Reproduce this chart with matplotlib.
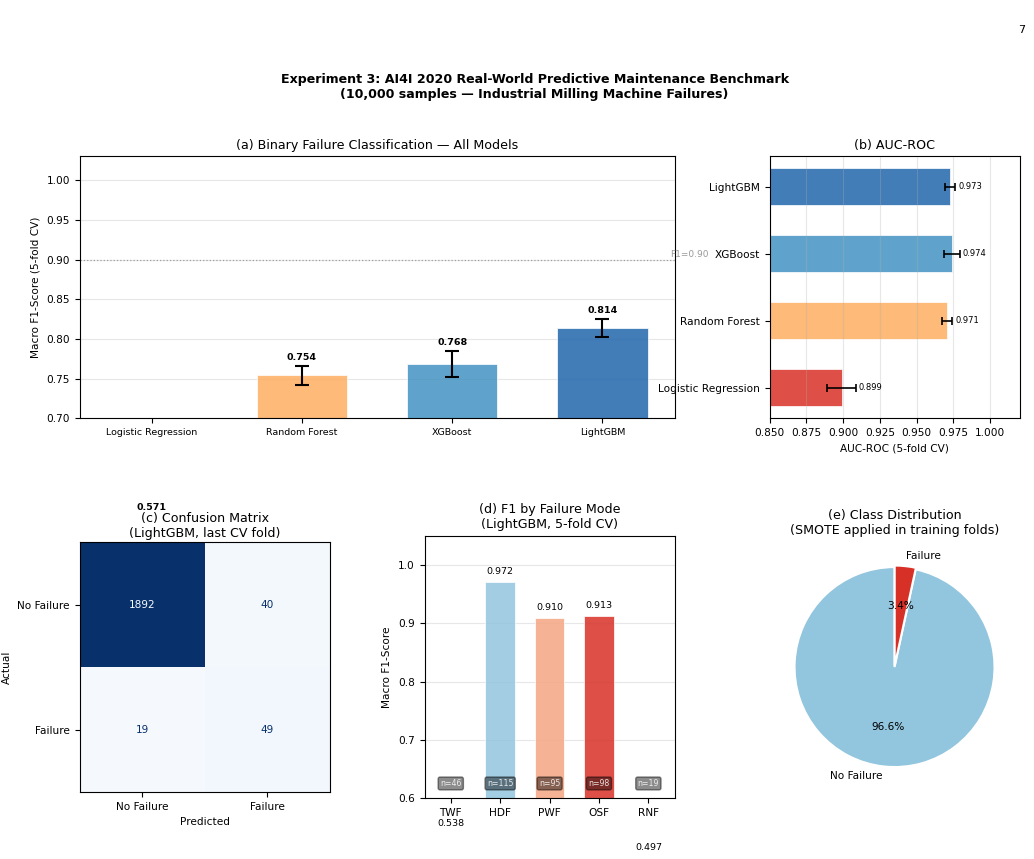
import numpy as np
import matplotlib
matplotlib.use("Agg")
import matplotlib.pyplot as plt

# model results
models = ['Logistic Regression', 'Random Forest', 'XGBoost', 'LightGBM']
f1_mean = [0.571, 0.754, 0.768, 0.814]
f1_std = [0.006, 0.012, 0.0165, 0.0115]
auc_mean = [0.899, 0.971, 0.974, 0.973]
auc_std = [0.0098, 0.0034, 0.0052, 0.0034]
model_colors = ['#d73027', '#fdae61', '#4393c3', '#2166ac']

# confusion matrix (LightGBM, last fold)
cm_labels = ['No Failure', 'Failure']
cm = np.array([[1892, 40],
               [19, 49]])

# failure modes
modes = ['TWF', 'HDF', 'PWF', 'OSF', 'RNF']
mode_f1 = [0.538, 0.972, 0.910, 0.913, 0.497]
mode_n = [46, 115, 95, 98, 19]
mode_colors = ['#2166ac', '#92c5de', '#f4a582', '#d73027', '#b2182b']

# class distribution
class_labels = ['No Failure', 'Failure']
class_share = [96.6, 3.4]
class_colors = ['#92c5de', '#d73027']

plt.rcParams['font.size'] = 7.6

fig = plt.figure(figsize=(10.34, 8.59), dpi=100)
gs = fig.add_gridspec(2, 3, left=0.077, right=0.986, top=0.818, bottom=0.071,
                      wspace=0.38, hspace=0.45)

fig.suptitle('Experiment 3: AI4I 2020 Real-World Predictive Maintenance Benchmark\n'
             '(10,000 samples — Industrial Milling Machine Failures)',
             fontsize=9.1, fontweight='bold', x=0.517, y=0.915)
fig.text(0.988, 0.965, '7', fontsize=8, ha='center', va='center')

# (a) macro F1 bars
ax = fig.add_subplot(gs[0, 0:2])
x = np.arange(len(models))
ax.bar(x, f1_mean, width=0.6, yerr=f1_std, color=model_colors, alpha=0.85,
       edgecolor='white', linewidth=0.6, capsize=5,
       error_kw=dict(elinewidth=1.5, capthick=1.5, ecolor='black'))
for i in range(len(models)):
    ax.text(x[i], f1_mean[i] + f1_std[i] + 0.005, f'{f1_mean[i]:.3f}',
            ha='center', va='bottom', fontsize=6.8, fontweight='bold', clip_on=False)
ax.axhline(0.90, color='grey', linestyle=':', linewidth=0.9, alpha=0.7)
ax.text(3.45, 0.901, 'F1=0.90', fontsize=6.5, color='grey', alpha=0.8,
        ha='left', va='bottom')
ax.set_xticks(x)
ax.set_xticklabels(models, fontsize=6.8)
ax.set_ylim(0.70, 1.03)
ax.set_ylabel('Macro F1-Score (5-fold CV)')
ax.set_title('(a) Binary Failure Classification — All Models', fontsize=9.1, pad=5)
ax.grid(axis='y', alpha=0.3)
ax.set_axisbelow(True)

# (b) AUC-ROC horizontal bars
ax = fig.add_subplot(gs[0, 2])
y = np.arange(len(models))
ax.barh(y, auc_mean, height=0.55, xerr=auc_std, color=model_colors, alpha=0.85,
        edgecolor='white', linewidth=0.6, capsize=3,
        error_kw=dict(elinewidth=1.2, capthick=1.2, ecolor='black'))
for i in range(len(models)):
    ax.text(auc_mean[i] + auc_std[i] + 0.002, y[i], f'{auc_mean[i]:.3f}',
            ha='left', va='center', fontsize=6)
ax.set_yticks(y)
ax.set_yticklabels(models)
ax.set_xlim(0.85, 1.02)
ax.set_xlabel('AUC-ROC (5-fold CV)')
ax.set_title('(b) AUC-ROC', fontsize=9.1, pad=5)
ax.grid(axis='x', alpha=0.3)

# (c) confusion matrix
ax = fig.add_subplot(gs[1, 0])
cmap = plt.get_cmap('Blues')
ax.imshow(cm, cmap=cmap, vmin=0, vmax=cm.max())
thresh = cm.max() / 2
for i in range(2):
    for j in range(2):
        col = cmap(0.0) if cm[i, j] > thresh else cmap(1.0)
        ax.text(j, i, str(cm[i, j]), ha='center', va='center', color=col, fontsize=7.6)
ax.set_xticks([0, 1])
ax.set_xticklabels(cm_labels)
ax.set_yticks([0, 1])
ax.set_yticklabels(cm_labels)
ax.set_xlabel('Predicted')
ax.set_ylabel('Actual')
ax.set_title('(c) Confusion Matrix\n(LightGBM, last CV fold)', fontsize=9.1, pad=4)

# (d) F1 by failure mode
ax = fig.add_subplot(gs[1, 1])
xm = np.arange(len(modes))
ax.bar(xm, mode_f1, width=0.6, color=mode_colors, alpha=0.85, edgecolor='white',
       linewidth=0.6)
for i in range(len(modes)):
    ax.text(xm[i], mode_f1[i] + 0.01, f'{mode_f1[i]:.3f}', ha='center', va='bottom',
            fontsize=6.8, clip_on=False)
    ax.text(xm[i], 0.625, f'n={mode_n[i]}', ha='center', va='center', fontsize=5.6,
            color='white', alpha=0.85,
            bbox=dict(boxstyle='round,pad=0.25', facecolor='black', alpha=0.45,
                      edgecolor='black'))
ax.set_xticks(xm)
ax.set_xticklabels(modes)
ax.set_ylim(0.6, 1.05)
ax.set_ylabel('Macro F1-Score')
ax.set_title('(d) F1 by Failure Mode\n(LightGBM, 5-fold CV)', fontsize=9.1)
ax.grid(axis='y', alpha=0.3)
ax.set_axisbelow(True)

# (e) class distribution
ax = fig.add_subplot(gs[1, 2])
ax.pie(class_share, labels=class_labels, colors=class_colors, autopct='%1.1f%%',
       startangle=90, explode=[0, 0.015],
       wedgeprops=dict(edgecolor='white', linewidth=1.5),
       textprops=dict(fontsize=7.6))
ax.set_title('(e) Class Distribution\n(SMOTE applied in training folds)', fontsize=9.1)

fig.savefig('out.png', dpi=100)
